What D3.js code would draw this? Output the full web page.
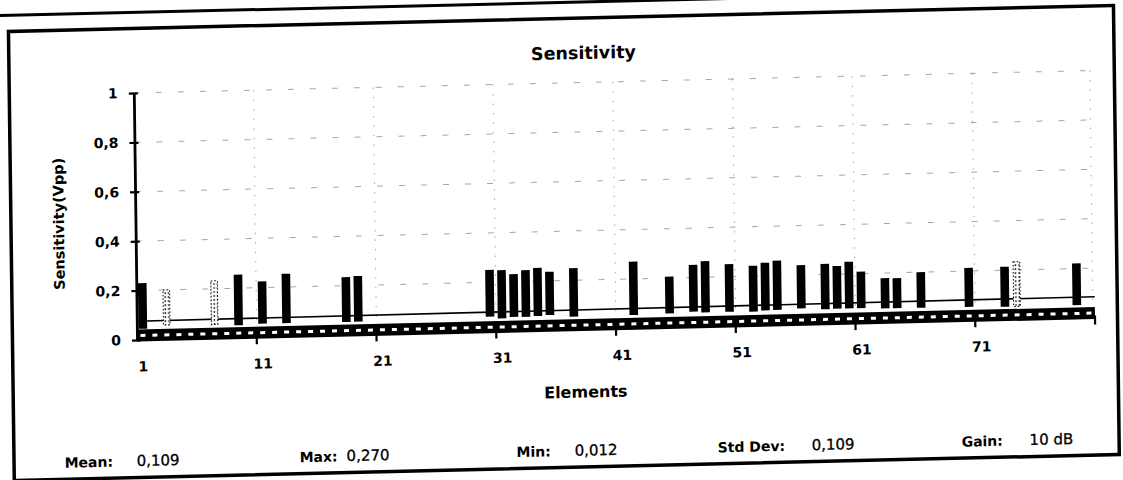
<!DOCTYPE html>
<meta charset="utf-8">
<style>
body { margin: 0; background: #fff; }
svg { display: block; }
text { font-family: "DejaVu Sans", sans-serif; fill: #000; }
</style>
<body>
<script src="https://d3js.org/d3.v7.min.js"></script>
<script>
var width = 1123,
    height = 480;

// transducer elements on the x axis
var elements = d3.range(1, 81);

// elements that show a bar, with the bar's upper and lower value (Vpp)
var barElements = [1, 3, 7, 9, 11, 13, 18, 19, 30, 31, 32, 33, 34, 35, 37, 42, 45, 47, 48, 50,
                   52, 53, 54, 56, 58, 59, 60, 61, 63, 64, 66, 70, 73, 74, 79];
var barHigh = [0.230, 0.200, 0.232, 0.255, 0.225, 0.254, 0.235, 0.238, 0.250, 0.248, 0.231, 0.246,
               0.254, 0.237, 0.249, 0.270, 0.206, 0.251, 0.265, 0.251, 0.242, 0.253, 0.260, 0.240,
               0.243, 0.233, 0.249, 0.208, 0.179, 0.178, 0.200, 0.213, 0.214, 0.233, 0.221];
var barLow = [0.045, 0.058, 0.055, 0.050, 0.054, 0.054, 0.053, 0.053, 0.061, 0.053, 0.058, 0.057,
              0.059, 0.062, 0.053, 0.054, 0.057, 0.062, 0.058, 0.058, 0.056, 0.060, 0.061, 0.065,
              0.059, 0.060, 0.060, 0.060, 0.057, 0.057, 0.056, 0.055, 0.052, 0.052, 0.052];
// bars printed light (speckled in the copy)
var dottedElements = [3, 7, 74];

// thin reference line (first, last element) and the thick floor line
var refLine = [0.076, 0.084];
var floorLine = [0.018, 0.018];

var yTicks = [0, 0.2, 0.4, 0.6, 0.8, 1];
var xLabels = [1, 11, 21, 31, 41, 51, 61, 71];
var gridElements = [11, 21, 31, 41, 51, 61, 71];

var statNames = ["Mean:", "Max:", "Min:", "Std Dev:", "Gain:"];
var statValues = ["0,109", "0,270", "0,012", "0,109", "10 dB"];

var title = "Sensitivity",
    xTitle = "Elements",
    yTitle = "Sensitivity(Vpp)";

// layout
var statNameX = [63, 298, 515, 716, 960],
    statValueX = [135, 345, 573, 810, 1028];

var svg = d3.select("body").append("svg")
    .attr("width", width)
    .attr("height", height);

svg.append("rect").attr("width", width).attr("height", height).attr("fill", "#fff");

var defs = svg.append("defs");
var pat = defs.append("pattern")
    .attr("id", "speckle")
    .attr("patternUnits", "userSpaceOnUse")
    .attr("width", 3.5).attr("height", 4);
pat.append("rect").attr("width", 3.5).attr("height", 4).attr("fill", "#fff");
pat.append("rect").attr("x", 0.5).attr("y", 1).attr("width", 1.4).attr("height", 1.6).attr("fill", "#000");

// the sheet is scanned slightly askew
var g = svg.append("g")
    .attr("transform", "matrix(1,-0.0235,0.013,1,-4.42,3.22)");

// page lines
g.append("line")
    .attr("x1", -30).attr("x2", 1150)
    .attr("y1", 12.5).attr("y2", 12.5)
    .attr("stroke", "#000").attr("stroke-width", 3);
g.append("rect")
    .attr("x", 12.5).attr("y", 28.5)
    .attr("width", 1105).attr("height", 449)
    .attr("fill", "none").attr("stroke", "#000").attr("stroke-width", 3.5);

var x = d3.scaleBand()
    .domain(elements)
    .range([137, 1095])
    .paddingInner(0.28)
    .paddingOuter(0.14);

var y = d3.scaleLinear()
    .domain([0, 1])
    .range([340, 93]);

function boundary(e) {
  return x(e) + x.bandwidth() / 2 - x.step() / 2;
}

// faint gridlines
g.append("g").selectAll("line")
  .data(yTicks.filter(function(d) { return d > 0; }))
  .enter().append("line")
    .attr("x1", x.range()[0]).attr("x2", x.range()[1])
    .attr("y1", function(d) { return y(d); })
    .attr("y2", function(d) { return y(d); })
    .attr("stroke", "#000")
    .attr("stroke-opacity", 0.35)
    .attr("stroke-width", 1)
    .attr("stroke-dasharray", "6,16");

g.append("g").selectAll("line")
  .data(gridElements.concat([81]))
  .enter().append("line")
    .attr("x1", function(d) { return d > 80 ? x.range()[1] - 2 : boundary(d); })
    .attr("x2", function(d) { return d > 80 ? x.range()[1] - 2 : boundary(d); })
    .attr("y1", y(1)).attr("y2", y(0.05))
    .attr("stroke", "#000")
    .attr("stroke-opacity", 0.35)
    .attr("stroke-width", 1)
    .attr("stroke-dasharray", "1.5,8");

// thin reference line
g.append("line")
    .attr("x1", x.range()[0]).attr("x2", x.range()[1])
    .attr("y1", y(refLine[0])).attr("y2", y(refLine[1]))
    .attr("stroke", "#000").attr("stroke-width", 1.7);

// bars
var bars = barElements.map(function(e, i) {
  return {el: e, hi: barHigh[i], lo: barLow[i], dotted: dottedElements.indexOf(e) >= 0};
});

g.append("g").selectAll("rect")
  .data(bars)
  .enter().append("rect")
    .attr("x", function(d) { return x(d.el) + (d.dotted ? 1 : 0); })
    .attr("width", function(d) { return x.bandwidth() - (d.dotted ? 2 : 0); })
    .attr("y", function(d) { return y(d.hi); })
    .attr("height", function(d) { return y(d.lo) - y(d.hi); })
    .attr("fill", function(d) { return d.dotted ? "url(#speckle)" : "#000"; })
    .attr("stroke", function(d) { return d.dotted ? "#000" : "none"; })
    .attr("stroke-width", 1)
    .attr("stroke-dasharray", "1.5,2");

// thick floor line with white markers
g.append("line")
    .attr("x1", x.range()[0]).attr("x2", x.range()[1])
    .attr("y1", y(floorLine[0])).attr("y2", y(floorLine[1]))
    .attr("stroke", "#000").attr("stroke-width", 12);

g.append("g").selectAll("rect")
  .data(elements)
  .enter().append("rect")
    .attr("x", function(d) { return x(d) + x.bandwidth() / 2 - 2.5; })
    .attr("y", y(floorLine[0]) - 1.5)
    .attr("width", 5).attr("height", 3)
    .attr("fill", "#fff");

// x axis: ticks at every tenth boundary, labels on element centres
g.append("g").selectAll("line")
  .data(gridElements.concat([81]))
  .enter().append("line")
    .attr("x1", function(d) { return d > 80 ? x.range()[1] : boundary(d); })
    .attr("x2", function(d) { return d > 80 ? x.range()[1] : boundary(d); })
    .attr("y1", y(0) - 2).attr("y2", y(0) + 7)
    .attr("stroke", "#000").attr("stroke-width", 2.2);

var xAxis = g.append("g")
    .attr("transform", "translate(0," + y(0) + ")")
    .call(d3.axisBottom(x).tickValues(xLabels).tickSize(0).tickPadding(21.5));
xAxis.select(".domain").remove();
xAxis.selectAll("text")
    .attr("font-family", "DejaVu Sans")
    .attr("font-size", 14)
    .attr("font-weight", "bold");

// y axis
var comma = d3.formatLocale({decimal: ",", thousands: ".", grouping: [3], currency: ["", ""]}).format("~g");
var yAxis = g.append("g")
    .attr("transform", "translate(" + x.range()[0] + ",0)")
    .call(d3.axisLeft(y).tickValues(yTicks).tickFormat(comma).tickSize(5).tickSizeOuter(0).tickPadding(11));
yAxis.select(".domain").attr("stroke-width", 2.8);
yAxis.selectAll(".tick line").attr("x1", 4).attr("stroke-width", 2.2);
yAxis.selectAll("text")
    .attr("font-family", "DejaVu Sans")
    .attr("font-size", 14)
    .attr("font-weight", "bold");

// titles
g.append("text")
    .attr("x", 587).attr("y", 69.5)
    .attr("text-anchor", "middle")
    .attr("font-size", 17.5).attr("font-weight", "bold")
    .text(title);

g.append("text")
    .attr("x", 585).attr("y", 408)
    .attr("text-anchor", "middle")
    .attr("font-size", 16).attr("font-weight", "bold")
    .text(xTitle);

g.append("text")
    .attr("transform", "translate(65.5,222) rotate(-90)")
    .attr("text-anchor", "middle")
    .attr("font-size", 14.5).attr("font-weight", "bold")
    .text(yTitle);

// summary row
var stats = g.append("g");
statNames.forEach(function(name, i) {
  stats.append("text")
      .attr("x", statNameX[i]).attr("y", 466)
      .attr("font-size", 14).attr("font-weight", "bold")
      .text(name);
  stats.append("text")
      .attr("x", statValueX[i]).attr("y", 466)
      .attr("font-size", 15)
      .attr("stroke", "#000").attr("stroke-width", 0.3)
      .text(statValues[i]);
});
</script>
</body>
